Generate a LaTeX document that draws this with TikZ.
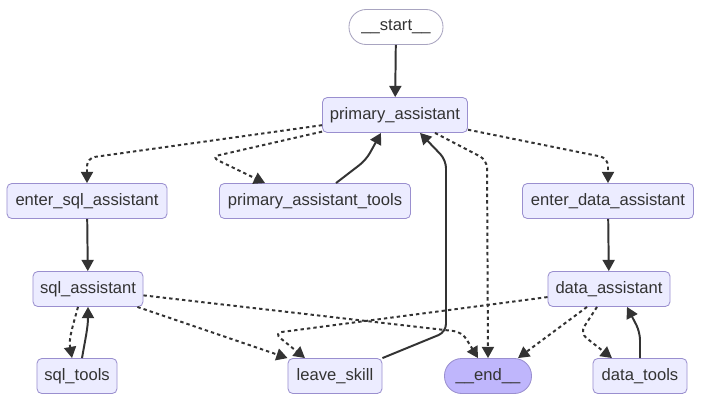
\documentclass[tikz,border=0pt]{standalone}
\usepackage{fontspec}
\setmainfont{Liberation Sans}
\usetikzlibrary{arrows.meta,calc}
\definecolor{nodefill}{HTML}{ECECFF}
\definecolor{nodeline}{HTML}{9A8FCF}
\definecolor{endfill}{HTML}{BFB6FC}
\definecolor{startline}{HTML}{A8A4C0}
\definecolor{dark}{HTML}{333333}
\tikzset{
  box/.style={draw=nodeline, rounded corners=1.2mm, line width=0.6pt, fill=nodefill, text=dark, minimum height=8.75mm, inner sep=0pt, font=\fontsize{11.8}{14}\selectfont},
  termbox/.style={box, rounded corners=4.3mm},
  startbox/.style={termbox, draw=startline, fill=white},
  endbox/.style={termbox, fill=endfill},
  arrow/.style={-{Triangle[length=2.8mm,width=3mm]}, line width=1.4pt, draw=dark, rounded corners=2mm},
  dotarrow/.style={arrow, dash pattern=on 2.4pt off 2.2pt}
}
\begin{document}
\begin{tikzpicture}[x=0.025cm, y=-0.025cm]
  \fill[white] (0,0) rectangle (703,403);
  \useasboundingbox (0,0) rectangle (703,403);
  \node[startbox, minimum width=2.35cm] (start) at (396,27) {\_\_start\_\_};
  \node[box, minimum width=3.625cm] (primary) at (395,115) {primary\_assistant};
  \node[box, minimum width=4cm] (entersql) at (87,201) {enter\_sql\_assistant};
  \node[box, minimum width=4.775cm] (primtools) at (315,201) {primary\_assistant\_tools};
  \node[box, minimum width=4.275cm] (enterdata) at (608,201) {enter\_data\_assistant};
  \node[box, minimum width=2.75cm] (sqlasst) at (88,289) {sql\_assistant};
  \node[box, minimum width=3.05cm] (dataasst) at (609,289) {data\_assistant};
  \node[box, minimum width=2cm] (sqltools) at (77,376) {sql\_tools};
  \node[box, minimum width=2.35cm] (leave) at (335,376) {leave\_skill};
  \node[endbox, minimum width=2.175cm] (finish) at (488,376) {\_\_end\_\_};
  \node[box, minimum width=2.35cm] (datatools) at (640,376) {data\_tools};
  % bends
  \coordinate (k1) at (87,158);
  \coordinate (k2) at (211,157);
  \coordinate (k3) at (366,160);
  \coordinate (k5) at (446,332);
  \coordinate (k6) at (446,160);
  \coordinate (k7) at (487,160);
  \coordinate (k8) at (608,158);
  \coordinate (k9) at (462,332);
  \coordinate (k10) at (274,333);
  \coordinate (k11) at (580,333);
  \coordinate (k12) at (640,332);
  % solid edges
  \draw[arrow] (start) -- (primary);
  \draw[arrow] ($(primtools.north)+(21,0)$) -- (k3) -- ($(primary.south)+(-14,0)$);
  \draw[arrow] (leave.north east) -- (k5) -- (k6) -- ($(primary.south)+(25,0)$);
  \draw[arrow] (entersql) -- (sqlasst);
  \draw[arrow] (enterdata) -- (dataasst);
  \draw[arrow] ($(sqltools.north)+(5,0)$) to[out=80, in=-90] (sqlasst.south);
  \draw[arrow] (datatools.north) -- (k12) -- ($(dataasst.south)+(18,0)$);
  % conditional edges
  \draw[dotarrow] (primary) -- (k1) -- (entersql);
  \draw[dotarrow] (primary) -- (k2) -- ($(primtools.north west)+(46,0)$);
  \draw[dotarrow] ($(primary.south)+(40,0)$) -- (k7) -- (finish.north);
  \draw[dotarrow] (primary) -- (k8) -- (enterdata);
  \draw[dotarrow] ($(sqlasst.south)+(-10,0)$) to[out=-105, in=100] ($(sqltools.north)+(-5,0)$);
  \draw[dotarrow] ($(sqlasst.south east)+(-6,0)$) -- (leave.north west);
  \draw[dotarrow] (sqlasst) -- (k9) -- ($(finish.north)+(-10,0)$);
  \draw[dotarrow] (dataasst) -- (k10) -- ($(leave.north)+(-30,0)$);
  \draw[dotarrow] ($(dataasst.south)+(-22,0)$) -- ($(finish.north)+(30,0)$);
  \draw[dotarrow] ($(dataasst.south)+(-12,0)$) -- (k11) -- ($(datatools.north)+(-28,0)$);
\end{tikzpicture}
\end{document}
